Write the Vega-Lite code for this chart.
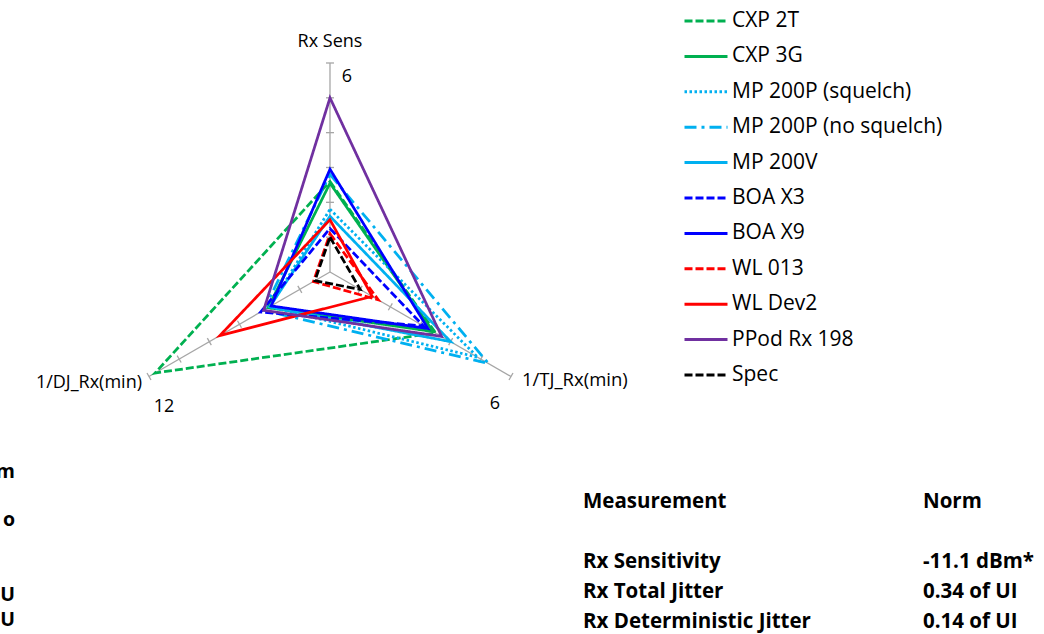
{
  "$schema": "https://vega.github.io/schema/vega-lite/v6.json",
  "width": 1044,
  "height": 634,
  "autosize": {"type": "none"},
  "padding": 0,
  "background": "white",
  "config": {"view": {"stroke": null}, "font": "Open Sans"},
  "datasets": {
    "axes": [
      {"axis": "Rx Sens", "idx": 0, "angle": 90, "max": 6},
      {"axis": "1/TJ_Rx(min)", "idx": 1, "angle": -30, "max": 6},
      {"axis": "1/DJ_Rx(min)", "idx": 2, "angle": 210, "max": 12}
    ],
    "ticks": [
      {"axis": "Rx Sens", "k": 1}, {"axis": "Rx Sens", "k": 2}, {"axis": "Rx Sens", "k": 3},
      {"axis": "Rx Sens", "k": 4}, {"axis": "Rx Sens", "k": 5}, {"axis": "Rx Sens", "k": 6},
      {"axis": "1/TJ_Rx(min)", "k": 1}, {"axis": "1/TJ_Rx(min)", "k": 2}, {"axis": "1/TJ_Rx(min)", "k": 3},
      {"axis": "1/TJ_Rx(min)", "k": 4}, {"axis": "1/TJ_Rx(min)", "k": 5}, {"axis": "1/TJ_Rx(min)", "k": 6},
      {"axis": "1/DJ_Rx(min)", "k": 1}, {"axis": "1/DJ_Rx(min)", "k": 2}, {"axis": "1/DJ_Rx(min)", "k": 3},
      {"axis": "1/DJ_Rx(min)", "k": 4}, {"axis": "1/DJ_Rx(min)", "k": 5}, {"axis": "1/DJ_Rx(min)", "k": 6}
    ],
    "radar": [
      {"series": "CXP 2T", "axis": "Rx Sens", "value": 2.6},
      {"series": "CXP 2T", "axis": "1/TJ_Rx(min)", "value": 3.5},
      {"series": "CXP 2T", "axis": "1/DJ_Rx(min)", "value": 11.6},
      {"series": "CXP 3G", "axis": "Rx Sens", "value": 2.55},
      {"series": "CXP 3G", "axis": "1/TJ_Rx(min)", "value": 3.42},
      {"series": "CXP 3G", "axis": "1/DJ_Rx(min)", "value": 4.1},
      {"series": "MP 200P (squelch)", "axis": "Rx Sens", "value": 1.8},
      {"series": "MP 200P (squelch)", "axis": "1/TJ_Rx(min)", "value": 4.9},
      {"series": "MP 200P (squelch)", "axis": "1/DJ_Rx(min)", "value": 4.0},
      {"series": "MP 200P (no squelch)", "axis": "Rx Sens", "value": 2.8},
      {"series": "MP 200P (no squelch)", "axis": "1/TJ_Rx(min)", "value": 5.25},
      {"series": "MP 200P (no squelch)", "axis": "1/DJ_Rx(min)", "value": 4.4},
      {"series": "MP 200V", "axis": "Rx Sens", "value": 1.6},
      {"series": "MP 200V", "axis": "1/TJ_Rx(min)", "value": 4.0},
      {"series": "MP 200V", "axis": "1/DJ_Rx(min)", "value": 4.0},
      {"series": "BOA X3", "axis": "Rx Sens", "value": 1.25},
      {"series": "BOA X3", "axis": "1/TJ_Rx(min)", "value": 3.1},
      {"series": "BOA X3", "axis": "1/DJ_Rx(min)", "value": 4.6},
      {"series": "BOA X9", "axis": "Rx Sens", "value": 2.95},
      {"series": "BOA X9", "axis": "1/TJ_Rx(min)", "value": 3.25},
      {"series": "BOA X9", "axis": "1/DJ_Rx(min)", "value": 3.9},
      {"series": "WL 013", "axis": "Rx Sens", "value": 1.1},
      {"series": "WL 013", "axis": "1/TJ_Rx(min)", "value": 1.6},
      {"series": "WL 013", "axis": "1/DJ_Rx(min)", "value": 1.1},
      {"series": "WL Dev2", "axis": "Rx Sens", "value": 1.5},
      {"series": "WL Dev2", "axis": "1/TJ_Rx(min)", "value": 1.4},
      {"series": "WL Dev2", "axis": "1/DJ_Rx(min)", "value": 7.3},
      {"series": "PPod Rx 198", "axis": "Rx Sens", "value": 5.0},
      {"series": "PPod Rx 198", "axis": "1/TJ_Rx(min)", "value": 3.7},
      {"series": "PPod Rx 198", "axis": "1/DJ_Rx(min)", "value": 4.4},
      {"series": "Spec", "axis": "Rx Sens", "value": 1.0},
      {"series": "Spec", "axis": "1/TJ_Rx(min)", "value": 1.0},
      {"series": "Spec", "axis": "1/DJ_Rx(min)", "value": 1.0}
    ],
    "table": [
      {"text": "Measurement", "col": 1, "line": 0},
      {"text": "Norm", "col": 2, "line": 0},
      {"text": "Rx Sensitivity", "col": 1, "line": 2},
      {"text": "-11.1 dBm*", "col": 2, "line": 2},
      {"text": "Rx Total Jitter", "col": 1, "line": 3},
      {"text": "0.34 of UI", "col": 2, "line": 3},
      {"text": "Rx Deterministic Jitter", "col": 1, "line": 4},
      {"text": "0.14 of UI", "col": 2, "line": 4}
    ],
    "fragments": [
      {"text": "m", "col": 0, "line": -1.0},
      {"text": "o", "col": 0, "line": 0.6},
      {"text": "U", "col": 0, "line": 3.1},
      {"text": "U", "col": 0, "line": 3.93}
    ]
  },
  "resolve": {"scale": {"x": "independent", "y": "independent"}},
  "layer": [
    {
      "data": {"name": "axes"},
      "transform": [
        {"calculate": "cos(datum.angle*PI/180)", "as": "x"},
        {"calculate": "sin(datum.angle*PI/180)", "as": "y"}
      ],
      "mark": {"type": "rule", "color": "#A6A6A6", "strokeWidth": 1.3},
      "encoding": {
        "x": {"field": "x", "type": "quantitative", "scale": {"domain": [-1.5789, 3.4163], "nice": false, "zero": false}, "axis": null},
        "y": {"field": "y", "type": "quantitative", "scale": {"domain": [-1.7321, 1.3014], "nice": false, "zero": false}, "axis": null},
        "x2": {"datum": 0},
        "y2": {"datum": 0}
      }
    },
    {
      "data": {"name": "ticks"},
      "transform": [
        {"lookup": "axis", "from": {"data": {"name": "axes"}, "key": "axis", "fields": ["angle"]}},
        {"calculate": "datum.k/6*cos(datum.angle*PI/180)", "as": "x"},
        {"calculate": "datum.k/6*sin(datum.angle*PI/180)", "as": "y"},
        {"calculate": "90-datum.angle", "as": "ta"}
      ],
      "mark": {"type": "point", "shape": "stroke", "size": 64, "stroke": "#A6A6A6", "strokeWidth": 1.3, "filled": false, "opacity": 1},
      "encoding": {
        "x": {"field": "x", "type": "quantitative", "scale": {"domain": [-1.5789, 3.4163], "nice": false, "zero": false}, "axis": null},
        "y": {"field": "y", "type": "quantitative", "scale": {"domain": [-1.7321, 1.3014], "nice": false, "zero": false}, "axis": null},
        "angle": {"field": "ta", "type": "quantitative", "scale": null}
      }
    },
    {
      "data": {"name": "radar"},
      "transform": [
        {"lookup": "axis", "from": {"data": {"name": "axes"}, "key": "axis", "fields": ["angle", "max", "idx"]}},
        {"calculate": "datum.value/datum.max*cos(datum.angle*PI/180)", "as": "x"},
        {"calculate": "datum.value/datum.max*sin(datum.angle*PI/180)", "as": "y"}
      ],
      "mark": {"type": "line", "interpolate": "linear-closed", "strokeWidth": 2.75},
      "encoding": {
        "x": {"field": "x", "type": "quantitative", "scale": {"domain": [-1.5789, 3.4163], "nice": false, "zero": false}, "axis": null},
        "y": {"field": "y", "type": "quantitative", "scale": {"domain": [-1.7321, 1.3014], "nice": false, "zero": false}, "axis": null},
        "order": {"field": "idx", "type": "quantitative"},
        "color": {
          "field": "series", "type": "nominal",
          "scale": {
            "domain": ["CXP 2T", "CXP 3G", "MP 200P (squelch)", "MP 200P (no squelch)", "MP 200V", "BOA X3", "BOA X9", "WL 013", "WL Dev2", "PPod Rx 198", "Spec"],
            "range": ["#00B050", "#00B050", "#00B0F0", "#00B0F0", "#00B0F0", "#0000FF", "#0000FF", "#FF0000", "#FF0000", "#7030A0", "#000000"]
          },
          "legend": {"title": null, "orient": "none", "legendX": 683, "legendY": -2, "symbolType": "stroke", "symbolSize": 1849, "symbolStrokeWidth": 3, "labelFont": "Open Sans", "labelFontSize": 21, "labelColor": "#000000", "labelOffset": 3, "rowPadding": 2.4, "padding": 0, "labelLimit": 400}
        },
        "strokeDash": {
          "field": "series", "type": "nominal",
          "scale": {
            "domain": ["CXP 2T", "CXP 3G", "MP 200P (squelch)", "MP 200P (no squelch)", "MP 200V", "BOA X3", "BOA X9", "WL 013", "WL Dev2", "PPod Rx 198", "Spec"],
            "range": [[8, 3], [1, 0], [2.5, 2.5], [12, 5, 3, 5], [1, 0], [8, 3], [1, 0], [8, 3], [1, 0], [1, 0], [8, 3]]
          },
          "legend": {"title": null, "orient": "none", "legendX": 683, "legendY": -2, "symbolType": "stroke", "symbolSize": 1849, "symbolStrokeWidth": 3, "labelFont": "Open Sans", "labelFontSize": 21, "labelColor": "#000000", "labelOffset": 3, "rowPadding": 2.4, "padding": 0, "labelLimit": 400}
        }
      }
    },
    {
      "data": {"name": "axes"},
      "transform": [
        {"filter": "datum.idx == 0"},
        {"calculate": "cos(datum.angle*PI/180)", "as": "x"},
        {"calculate": "sin(datum.angle*PI/180)", "as": "y"}
      ],
      "layer": [
        {"mark": {"type": "text", "align": "center", "baseline": "middle", "dy": -21, "fontSize": 18, "font": "Open Sans", "color": "#000000"}, "encoding": {"text": {"field": "axis"}}},
        {"mark": {"type": "text", "align": "center", "baseline": "middle", "dx": 17, "dy": 14, "fontSize": 18, "font": "Open Sans", "color": "#000000"}, "encoding": {"text": {"field": "max"}}}
      ],
      "encoding": {
        "x": {"field": "x", "type": "quantitative", "scale": {"domain": [-1.5789, 3.4163], "nice": false, "zero": false}, "axis": null},
        "y": {"field": "y", "type": "quantitative", "scale": {"domain": [-1.7321, 1.3014], "nice": false, "zero": false}, "axis": null}
      }
    },
    {
      "data": {"name": "axes"},
      "transform": [
        {"filter": "datum.idx == 1"},
        {"calculate": "cos(datum.angle*PI/180)", "as": "x"},
        {"calculate": "sin(datum.angle*PI/180)", "as": "y"}
      ],
      "layer": [
        {"mark": {"type": "text", "align": "left", "baseline": "middle", "dx": 11, "dy": 4, "fontSize": 18.5, "font": "Open Sans", "color": "#000000"}, "encoding": {"text": {"field": "axis"}}},
        {"mark": {"type": "text", "align": "center", "baseline": "middle", "dx": -16, "dy": 28, "fontSize": 18, "font": "Open Sans", "color": "#000000"}, "encoding": {"text": {"field": "max"}}}
      ],
      "encoding": {
        "x": {"field": "x", "type": "quantitative", "scale": {"domain": [-1.5789, 3.4163], "nice": false, "zero": false}, "axis": null},
        "y": {"field": "y", "type": "quantitative", "scale": {"domain": [-1.7321, 1.3014], "nice": false, "zero": false}, "axis": null}
      }
    },
    {
      "data": {"name": "axes"},
      "transform": [
        {"filter": "datum.idx == 2"},
        {"calculate": "cos(datum.angle*PI/180)", "as": "x"},
        {"calculate": "sin(datum.angle*PI/180)", "as": "y"}
      ],
      "layer": [
        {"mark": {"type": "text", "align": "right", "baseline": "middle", "dx": -7, "dy": 7, "fontSize": 18, "font": "Open Sans", "color": "#000000"}, "encoding": {"text": {"field": "axis"}}},
        {"mark": {"type": "text", "align": "center", "baseline": "middle", "dx": 15, "dy": 31, "fontSize": 18, "font": "Open Sans", "color": "#000000"}, "encoding": {"text": {"field": "max"}}}
      ],
      "encoding": {
        "x": {"field": "x", "type": "quantitative", "scale": {"domain": [-1.5789, 3.4163], "nice": false, "zero": false}, "axis": null},
        "y": {"field": "y", "type": "quantitative", "scale": {"domain": [-1.7321, 1.3014], "nice": false, "zero": false}, "axis": null}
      }
    },
    {
      "data": {"name": "table"},
      "mark": {"type": "text", "align": "left", "baseline": "middle", "fontSize": 20.5, "fontWeight": "bold", "font": "Open Sans", "color": "#000000"},
      "encoding": {
        "x": {"field": "col", "type": "quantitative", "scale": {"domain": [0, 1, 2], "range": [15, 583, 923], "nice": false, "zero": false}, "axis": null},
        "y": {"field": "line", "type": "quantitative", "scale": {"domain": [0, 4], "range": [501.7, 621.7], "nice": false, "zero": false}, "axis": null},
        "text": {"field": "text"}
      }
    },
    {
      "data": {"name": "fragments"},
      "mark": {"type": "text", "align": "right", "baseline": "middle", "fontSize": 19.5, "fontWeight": "bold", "font": "Open Sans", "color": "#000000"},
      "encoding": {
        "x": {"field": "col", "type": "quantitative", "scale": {"domain": [0, 1, 2], "range": [15, 583, 923], "nice": false, "zero": false}, "axis": null},
        "y": {"field": "line", "type": "quantitative", "scale": {"domain": [0, 4], "range": [501.7, 621.7], "nice": false, "zero": false}, "axis": null},
        "text": {"field": "text"}
      }
    }
  ]
}
